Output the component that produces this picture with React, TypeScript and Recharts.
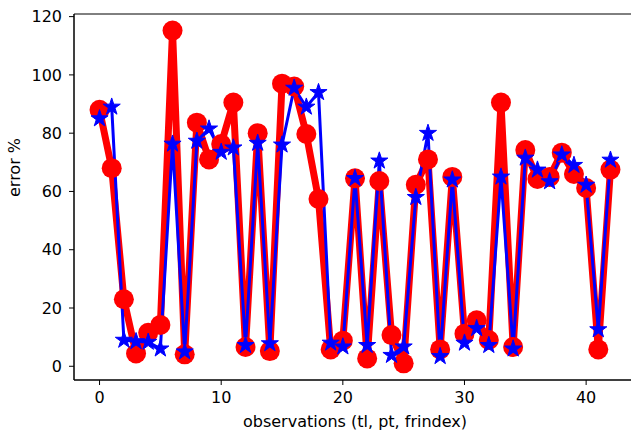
import { LineChart, Line, XAxis, YAxis, ReferenceArea } from "recharts";

// observation index 0..42
const observations = [
  0, 1, 2, 3, 4, 5, 6, 7, 8, 9, 10, 11, 12, 13, 14, 15, 16, 17, 18, 19, 20,
  21, 22, 23, 24, 25, 26, 27, 28, 29, 30, 31, 32, 33, 34, 35, 36, 37, 38, 39,
  40, 41, 42,
];

const redErrors = [
  88, 68, 23, 4.4, 11.5, 14.2, 115.2, 4.1, 83.6, 71, 76.3, 90.5, 6.6, 80, 5.2,
  97, 96, 79.7, 57.4, 5.8, 8.8, 64.5, 2.7, 63.6, 10.7, 1, 62.3, 71, 5.8, 65,
  11.2, 15.8, 9, 90.5, 6.6, 74.2, 64.3, 65, 73.3, 66, 61.2, 5.8, 67.5,
];

const blueErrors = [
  85, 89, 9, 8.5, 8.3, 6, 76.3, 5, 77.3, 81.5, 73.5, 75, 7.2, 76.6, 7.8, 76,
  95.5, 89, 94, 8, 6.7, 64.5, 7.2, 70.5, 3.8, 6.7, 58, 80, 3.4, 64, 8, 13,
  7.2, 65, 6, 71.5, 67.4, 63.4, 72.6, 69, 62.2, 12.6, 70.8,
];

const xTicks = [0, 10, 20, 30, 40];
const yTicks = [0, 20, 40, 60, 80, 100, 120];

const X_DOMAIN: [number, number] = [-2.1, 44.1];
const Y_DOMAIN: [number, number] = [-4.71, 120.9];

const data = observations.map((obs, i) => ({
  obs,
  red: redErrors[i],
  blue: blueErrors[i],
}));

const font = "'DejaVu Sans', sans-serif";
const FS = 16;

function starPath(cx: number, cy: number, outer: number) {
  const inner = outer * 0.382;
  const pts: string[] = [];
  for (let k = 0; k < 10; k++) {
    const r = k % 2 === 0 ? outer : inner;
    const a = -Math.PI / 2 + (k * Math.PI) / 5;
    pts.push(`${cx + r * Math.cos(a)},${cy + r * Math.sin(a)}`);
  }
  return "M" + pts.join("L") + "Z";
}

const StarDot = (props: any) => {
  const { cx, cy, index } = props;
  if (cx == null || cy == null) return <g key={index} />;
  return (
    <path
      key={index}
      d={starPath(cx, cy, 9)}
      fill="#0000ff"
      stroke="#0000ff"
      strokeWidth={1}
    />
  );
};

export default function App() {
  return (
    <div
      style={{
        position: "absolute",
        left: 0,
        top: 0,
        width: 631,
        height: 430,
        overflow: "hidden",
      }}
    >
      <style>{"body{margin:0}"}</style>
      {/* the right spine sits just past the picture's edge, as in the original */}
      <LineChart
        width={636}
        height={430}
        data={data}
        margin={{ top: 14, right: 0, bottom: 0, left: 0 }}
        style={{ fontFamily: font }}
      >
        <XAxis
          dataKey="obs"
          type="number"
          domain={X_DOMAIN}
          ticks={xTicks}
          allowDataOverflow
          height={50}
          tickSize={5}
          tickMargin={7}
          stroke="#000"
          tick={{ fill: "#000", fontSize: FS, fontFamily: font }}
          label={{
            value: "observations (tl, pt, frindex)",
            position: "insideBottom",
            offset: 3,
            fill: "#000",
            fontSize: FS,
            fontFamily: font,
          }}
        />
        <YAxis
          type="number"
          domain={Y_DOMAIN}
          ticks={yTicks}
          allowDataOverflow
          width={74}
          tickSize={5}
          tickMargin={7}
          stroke="#000"
          tick={{ fill: "#000", fontSize: FS, fontFamily: font }}
          label={{
            value: "error %",
            angle: -90,
            position: "insideLeft",
            offset: 14,
            fill: "#000",
            fontSize: FS,
            fontFamily: font,
          }}
        />
        <ReferenceArea
          x1={X_DOMAIN[0]}
          x2={X_DOMAIN[1]}
          y1={Y_DOMAIN[0]}
          y2={Y_DOMAIN[1]}
          fill="none"
          stroke="#000"
          strokeWidth={1}
          ifOverflow="visible"
        />
        <Line
          dataKey="red"
          type="linear"
          stroke="#ff0000"
          strokeWidth={7}
          strokeLinejoin="round"
          dot={{ r: 10, fill: "#ff0000", stroke: "#ff0000", strokeWidth: 0 }}
          activeDot={false}
          isAnimationActive={false}
        />
        <Line
          dataKey="blue"
          type="linear"
          stroke="#0000ff"
          strokeWidth={3}
          dot={StarDot}
          activeDot={false}
          isAnimationActive={false}
        />
      </LineChart>
    </div>
  );
}
